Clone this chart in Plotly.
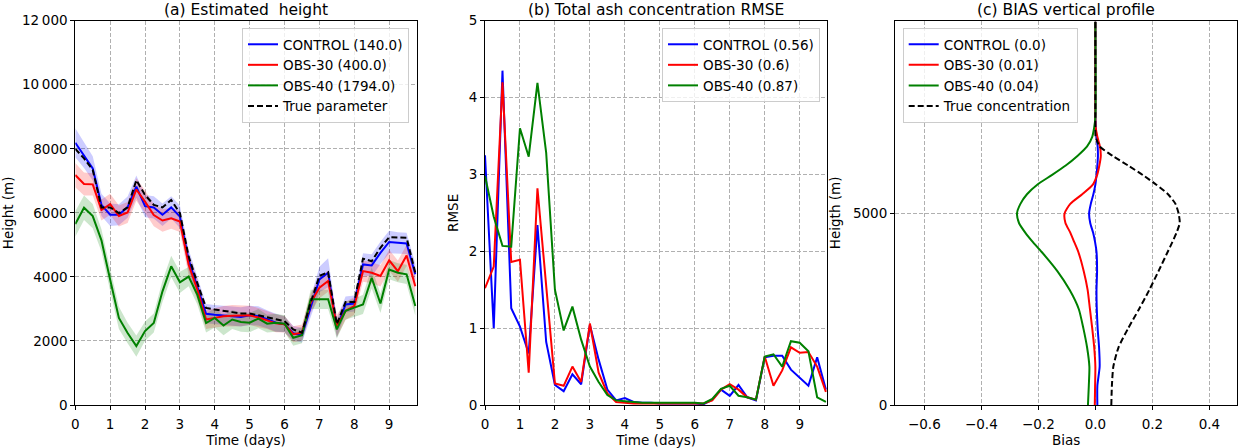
import plotly.graph_objects as go

# ---------------- data ----------------
time_days = [0, 0.25, 0.5, 0.75, 1, 1.25, 1.5, 1.75, 2, 2.25, 2.5, 2.75, 3, 3.25, 3.5, 3.75,
             4, 4.25, 4.5, 4.75, 5, 5.25, 5.5, 5.75, 6, 6.25, 6.5, 6.75, 7, 7.25, 7.5, 7.75,
             8, 8.25, 8.5, 8.75, 9, 9.25, 9.5, 9.75]

# (a) estimated height (m)
control_height = [8190, 7800, 7390, 6250, 5940, 5940, 6180, 6820, 6210, 6170, 5940, 6170, 5880, 4530, 3700, 2850,
                  2820, 2800, 2770, 2750, 2800, 2780, 2680, 2570, 2520, 2240, 2180, 3050, 3920, 4130, 2410, 3140,
                  3170, 4390, 4360, 4750, 5090, 5065, 5045, 4080]
obs30_height = [7180, 6900, 6890, 6090, 6270, 5900, 6010, 6730, 6350, 5930, 5760, 5830, 5730, 4380, 3600, 2670,
                2720, 2770, 2790, 2790, 2800, 2730, 2650, 2550, 2520, 2210, 2260, 3190, 3660, 3870, 2470, 2940,
                3090, 4180, 4130, 4030, 4520, 4180, 4670, 3710]
obs40_height = [5650, 6160, 5900, 5140, 3910, 2720, 2250, 1840, 2310, 2560, 3550, 4330, 3830, 4010, 3440, 2560,
                2720, 2480, 2670, 2590, 2570, 2700, 2540, 2570, 2540, 2100, 2180, 3300, 3300, 3300, 2360, 2940,
                3040, 3140, 3970, 3170, 4230, 4130, 4080, 3090]
true_height = [8000, 7700, 7340, 6170, 6170, 5990, 6170, 7020, 6560, 6250, 6170, 6400, 5990, 4640, 3810, 3030,
               2980, 2950, 2900, 2860, 2860, 2800, 2730, 2680, 2620, 2360, 2260, 3200, 4030, 4150, 2520, 3220,
               3220, 4570, 4490, 4910, 5240, 5240, 5220, 4130]
# ensemble spread (half-width of shaded band, m)
control_spread = [450, 400, 380, 350, 350, 330, 330, 350, 350, 350, 350, 350, 350, 330, 320, 300,
                  300, 300, 300, 300, 300, 300, 280, 280, 250, 230, 230, 300, 400, 450, 300, 250,
                  250, 350, 350, 350, 350, 330, 330, 330]
obs30_spread = [380, 360, 350, 330, 330, 330, 330, 350, 350, 350, 350, 330, 330, 330, 320, 300,
                300, 320, 330, 330, 300, 300, 280, 280, 260, 250, 250, 300, 330, 330, 350, 280,
                280, 330, 330, 330, 330, 330, 330, 330]
obs40_spread = [400, 380, 380, 350, 350, 350, 320, 330, 300, 300, 330, 330, 330, 300, 300, 300,
                300, 300, 300, 300, 300, 300, 280, 280, 260, 250, 250, 300, 300, 300, 280, 280,
                280, 300, 330, 300, 300, 300, 300, 300]

# (b) total ash concentration RMSE
control_rmse = [3.25, 1.0, 4.35, 1.26, 1.02, 0.67, 2.34, 0.82, 0.26, 0.18, 0.40, 0.27, 1.04, 0.59, 0.2, 0.06,
                0.09, 0.04, 0.03, 0.03, 0.02, 0.02, 0.02, 0.02, 0.02, 0.01, 0.07, 0.2, 0.12, 0.26, 0.1, 0.06,
                0.62, 0.64, 0.64, 0.46, 0.35, 0.25, 0.62, 0.2]
obs30_rmse = [1.52, 1.8, 4.2, 1.86, 1.89, 0.42, 2.82, 1.55, 0.28, 0.25, 0.5, 0.3, 1.06, 0.42, 0.15, 0.04,
              0.03, 0.02, 0.02, 0.02, 0.02, 0.02, 0.02, 0.02, 0.02, 0.02, 0.06, 0.2, 0.27, 0.2, 0.1, 0.07,
              0.63, 0.25, 0.45, 0.75, 0.68, 0.69, 0.5, 0.17]
obs40_rmse = [2.98, 2.45, 2.07, 2.06, 3.6, 3.23, 4.19, 3.28, 1.5, 0.97, 1.28, 0.85, 0.5, 0.3, 0.13, 0.06,
              0.05, 0.04, 0.03, 0.03, 0.03, 0.03, 0.03, 0.03, 0.03, 0.02, 0.08, 0.21, 0.25, 0.12, 0.1, 0.07,
              0.63, 0.66, 0.5, 0.83, 0.81, 0.7, 0.1, 0.04]

# (c) bias vertical profile
profile_height = [0, 500, 1000, 1500, 2000, 2500, 3000, 3500, 4000, 4250, 4500, 4750, 5000, 5250, 5500,
                  5750, 6000, 6250, 6500, 6750, 7000, 7250, 7500, 10000]
control_bias = [0.007, 0.007, 0.015, 0.013, 0.008, 0.005, 0.004, 0.006, 0.004, -0.001, -0.008, -0.018,
                -0.022, -0.016, -0.007, 0.0, 0.004, 0.007, 0.009, 0.008, 0.004, 0.001, 0.0, 0.0]
obs30_bias = [-0.002, -0.001, 0.0, -0.004, -0.011, -0.019, -0.027, -0.041, -0.06, -0.074, -0.088, -0.105,
              -0.108, -0.088, -0.046, -0.009, 0.006, 0.014, 0.019, 0.016, 0.007, 0.001, 0.0, 0.0]
obs40_bias = [-0.026, -0.023, -0.021, -0.029, -0.042, -0.058, -0.09, -0.134, -0.189, -0.219, -0.246, -0.268,
              -0.275, -0.263, -0.24, -0.204, -0.153, -0.104, -0.063, -0.029, -0.011, -0.004, 0.0, 0.0]
true_conc = [0.056, 0.058, 0.063, 0.081, 0.115, 0.153, 0.189, 0.222, 0.254, 0.270, 0.285, 0.296,
             0.292, 0.281, 0.255, 0.214, 0.167, 0.115, 0.061, 0.015, 0.001, 0.0, 0.0, 0.0]

height_ticks = [0, 2000, 4000, 6000, 8000, 10000, 12000]
height_ticktext = ["0", "2000", "4000", "6000", "8000", "10\u2009000", "12\u2009000"]
day_ticks = [0, 1, 2, 3, 4, 5, 6, 7, 8, 9]
bias_ticks = [-0.6, -0.4, -0.2, 0.0, 0.2, 0.4]
bias_ticktext = ["\u22120.6", "\u22120.4", "\u22120.2", "0.0", "0.2", "0.4"]

# ---------------- figure ----------------
BLUE, RED, GREEN = "#0000ff", "#ff0000", "#008000"
FONT = "DejaVu Sans"
FS = 13.5
W, H = 1239, 448


def px(p):  # page x pixel -> paper x
    return p / W


def py(p):  # page y pixel -> paper y
    return 1 - p / H


fig = go.Figure()


def band(y, s, color):
    up = [a + b for a, b in zip(y, s)]
    lo = [a - b for a, b in zip(y, s)]
    fig.add_trace(go.Scatter(x=time_days + time_days[::-1], y=up + lo[::-1], fill="toself",
                             fillcolor=color, line=dict(width=0), mode="lines",
                             hoverinfo="skip", showlegend=False, xaxis="x", yaxis="y"))


band(control_height, control_spread, "rgba(0,0,255,0.2)")
band(obs30_height, obs30_spread, "rgba(255,0,0,0.2)")
band(obs40_height, obs40_spread, "rgba(0,128,0,0.2)")

for y, name, c in [(control_height, "CONTROL (140.0)", BLUE), (obs30_height, "OBS-30 (400.0)", RED),
                   (obs40_height, "OBS-40 (1794.0)", GREEN)]:
    fig.add_trace(go.Scatter(x=time_days, y=y, name=name, mode="lines", line=dict(color=c, width=2),
                             xaxis="x", yaxis="y", legend="legend"))
fig.add_trace(go.Scatter(x=time_days, y=true_height, name="True parameter", mode="lines",
                         line=dict(color="black", width=2, dash="6px,3px"), xaxis="x", yaxis="y", legend="legend"))

for y, name, c in [(control_rmse, "CONTROL (0.56)", BLUE), (obs30_rmse, "OBS-30 (0.6)", RED),
                   (obs40_rmse, "OBS-40 (0.87)", GREEN)]:
    fig.add_trace(go.Scatter(x=time_days, y=y, name=name, mode="lines", line=dict(color=c, width=2),
                             xaxis="x2", yaxis="y2", legend="legend2"))

for x, name, c in [(control_bias, "CONTROL (0.0)", BLUE), (obs30_bias, "OBS-30 (0.01)", RED),
                   (obs40_bias, "OBS-40 (0.04)", GREEN)]:
    fig.add_trace(go.Scatter(x=x, y=profile_height, name=name, mode="lines",
                             line=dict(color=c, width=2, shape="spline", smoothing=0.6),
                             xaxis="x3", yaxis="y3", legend="legend3"))
fig.add_trace(go.Scatter(x=true_conc, y=profile_height, name="True concentration", mode="lines",
                         line=dict(color="black", width=2, dash="6px,3px", shape="spline", smoothing=0.6),
                         xaxis="x3", yaxis="y3", legend="legend3"))

axis_common = dict(showline=True, linecolor="black", linewidth=1, mirror=True, ticks="outside",
                   ticklen=4, tickcolor="black", showgrid=True, gridcolor="#b0b0b0", griddash="4px,2px",
                   gridwidth=1, zeroline=False, tickfont=dict(size=FS, color="black"),
                   title_font=dict(size=FS, color="black"), automargin=False)
xaxis_extra = dict(ticklabelstandoff=3)

yb, yt = py(405), py(20.7)
leg_common = dict(y=py(28), yanchor="top", bgcolor="rgba(255,255,255,0.8)",
                  bordercolor="#cccccc", borderwidth=1, font=dict(size=FS), itemwidth=30)
fig.update_layout(
    width=W, height=H, margin=dict(l=0, r=0, t=0, b=0),
    paper_bgcolor="white", plot_bgcolor="white",
    font=dict(family=FONT, size=FS, color="black"),
    xaxis=dict(axis_common, **xaxis_extra, domain=[px(75.3), px(416.7)], range=[0, 9.79], tickvals=day_ticks,
               title=dict(text="Time (days)", standoff=5), anchor="y"),
    yaxis=dict(axis_common, domain=[yb, yt], range=[0, 12000], tickvals=height_ticks,
               ticktext=height_ticktext, title=dict(text="Height (m)", standoff=17), anchor="x"),
    xaxis2=dict(axis_common, **xaxis_extra, domain=[px(485), px(827.3)], range=[0, 9.79], tickvals=day_ticks,
                title=dict(text="Time (days)", standoff=5), anchor="y2"),
    yaxis2=dict(axis_common, domain=[yb, yt], range=[0, 5], tickvals=[0, 1, 2, 3, 4, 5],
                title=dict(text="RMSE", standoff=6), anchor="x2"),
    xaxis3=dict(axis_common, **xaxis_extra, domain=[px(895), px(1237.3)], range=[-0.703, 0.498],
                tickvals=bias_ticks, ticktext=bias_ticktext, title=dict(text="Bias", standoff=5), anchor="y3"),
    yaxis3=dict(axis_common, domain=[yb, yt], range=[0, 10030], tickvals=[0, 5000],
                title=dict(text="Heigth (m)", standoff=9), anchor="x3"),
    legend=dict(leg_common, x=px(409), xanchor="right"),
    legend2=dict(leg_common, x=px(820), xanchor="right"),
    legend3=dict(leg_common, x=px(902.7), xanchor="left"),
)

titles = [("(a) Estimated  height", px(246)), ("(b) Total ash concentration RMSE", px(656.2)),
          ("(c) BIAS vertical profile", px(1066.2))]
for text, xc in titles:
    fig.add_annotation(text=text.replace("  ", "\u00a0 "), x=xc, y=yt, xref="paper", yref="paper",
                       xanchor="center", yanchor="bottom", yshift=0, showarrow=False,
                       font=dict(size=15.5, color="black"))

# remove the browser's default 8px page margin so the figure sits at the window's corner
fig.write_html("out.html", config={"displayModeBar": False},
               post_script="document.body.style.margin='0';")
